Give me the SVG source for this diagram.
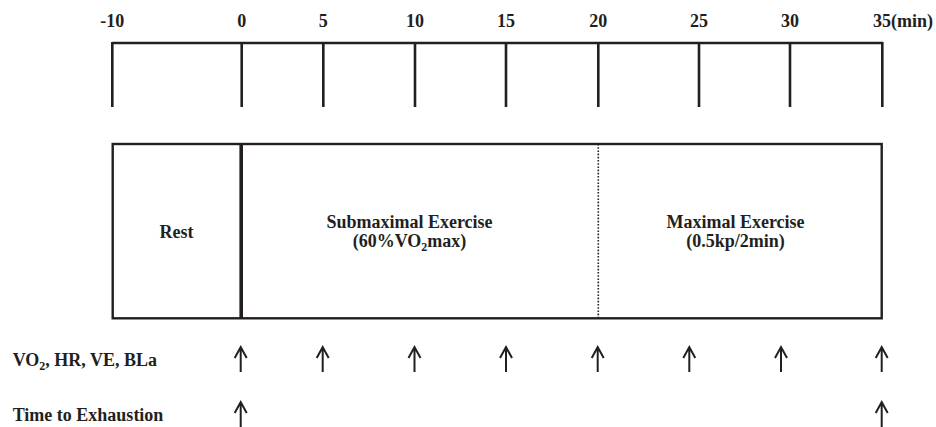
<svg xmlns="http://www.w3.org/2000/svg" width="936" height="427" viewBox="0 0 936 427">
<style>
text{font-family:"Liberation Serif","Times New Roman",serif;font-weight:bold;font-size:18px;fill:#231f20}
.c{text-anchor:middle}
.ln{stroke:#231f20;stroke-width:2.6;fill:none}
.ar{stroke:#231f20;stroke-width:2;fill:none}
</style>
<defs>
<g id="arrow"><path class="ar" d="M0,1 V26 M-6,12 L0,1 L6,12"/></g>
</defs>
<g id="timeline">
<path class="ln" d="M112.3,43 H883 M112.3,42 V107 M241.7,43 V107 M323.3,43 V107 M415,43 V107 M506,43 V107 M598.3,43 V107 M699,43 V107 M790,43 V107 M882.3,42 V107"/>
<text class="c" x="112.3" y="27">-10</text>
<text class="c" x="241.7" y="27">0</text>
<text class="c" x="323.3" y="27">5</text>
<text class="c" x="415" y="27">10</text>
<text class="c" x="506" y="27">15</text>
<text class="c" x="598.3" y="27">20</text>
<text class="c" x="699" y="27">25</text>
<text class="c" x="790" y="27">30</text>
<text x="873" y="27">35(min)</text>
</g>
<g id="box">
<rect x="112.7" y="144" width="769" height="174.3" fill="none" stroke="#231f20" stroke-width="2.4"/>
<line x1="241.2" y1="144" x2="241.2" y2="318.3" stroke="#231f20" stroke-width="3.6"/>
<line x1="598.3" y1="144" x2="598.3" y2="318.3" stroke="#231f20" stroke-width="1.6" stroke-dasharray="1.6,1.6"/>
</g>
<g id="rest"><text class="c" x="176.5" y="238.3">Rest</text></g>
<g id="submax">
<text class="c" x="409.5" y="228.3">Submaximal Exercise</text>
<text class="c" x="409.5" y="246.7">(60%VO<tspan font-size="12" dy="4">2</tspan><tspan dy="-4">max)</tspan></text>
</g>
<g id="max">
<text class="c" x="735.5" y="228">Maximal Exercise</text>
<text class="c" x="735.5" y="246.7">(0.5kp/2min)</text>
</g>
<g id="labels">
<text x="12.7" y="366">VO<tspan font-size="12" dy="4">2</tspan><tspan dy="-4">, HR, VE, BLa</tspan></text>
<text x="12.7" y="421">Time to Exhaustion</text>
</g>
<g id="connectors">
<use href="#arrow" x="240.7" y="346"/>
<use href="#arrow" x="322.7" y="346"/>
<use href="#arrow" x="414.5" y="346"/>
<use href="#arrow" x="506" y="346"/>
<use href="#arrow" x="597.7" y="346"/>
<use href="#arrow" x="689.3" y="346"/>
<use href="#arrow" x="781" y="346"/>
<use href="#arrow" x="881.7" y="346"/>
<use href="#arrow" x="240.7" y="401"/>
<use href="#arrow" x="881.7" y="401"/>
</g>
</svg>
